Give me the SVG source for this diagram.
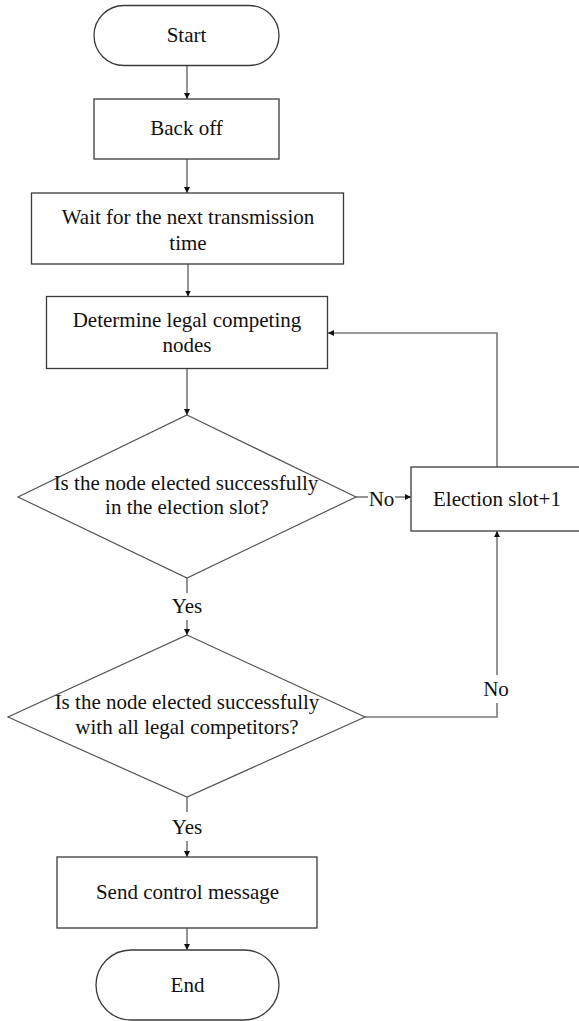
<svg xmlns="http://www.w3.org/2000/svg" width="579" height="1021" viewBox="0 0 579 1021">
<style>
.shape{fill:#fff;stroke:#3a3a3a;stroke-width:1.3}
.dia{fill:#fff;stroke:#555;stroke-width:1.2}
.conn{fill:none;stroke:#7a7a7a;stroke-width:1.6}
.t{font-family:"Liberation Serif","Times New Roman",serif;font-size:21px;fill:#111;text-anchor:middle}
</style>
<defs>
<marker id="arr" viewBox="0 0 10 10" refX="10" refY="5" markerWidth="6" markerHeight="6" markerUnits="userSpaceOnUse" orient="auto">
<path d="M0,0 L10,5 L0,10 z" fill="#111"/>
</marker>
</defs>
<rect width="579" height="1021" fill="#fff"/>
<g id="connectors">
<path class="conn" d="M187,66 V99" marker-end="url(#arr)"/>
<path class="conn" d="M187,159 V193" marker-end="url(#arr)"/>
<path class="conn" d="M188,264 V296.5" marker-end="url(#arr)"/>
<path class="conn" d="M187,369 V415" marker-end="url(#arr)"/>
<path class="conn" d="M497,467 V333 H328" marker-end="url(#arr)"/>
<path class="conn" d="M356,497 H368"/>
<path class="conn" d="M395,497 H411" marker-end="url(#arr)"/>
<path class="conn" d="M187,578 V593"/>
<path class="conn" d="M187,620 V635" marker-end="url(#arr)"/>
<path class="conn" d="M365,717 H497 V703"/>
<path class="conn" d="M497,675 V531" marker-end="url(#arr)"/>
<path class="conn" d="M187,797 V812"/>
<path class="conn" d="M187,841 V857" marker-end="url(#arr)"/>
<path class="conn" d="M187,928 V950" marker-end="url(#arr)"/>
<text class="t" x="381.5" y="505.5">No</text>
<text class="t" x="187" y="612.5">Yes</text>
<text class="t" x="496" y="695.5">No</text>
<text class="t" x="187" y="833.5">Yes</text>
</g>
<g id="start">
<rect class="shape" x="94" y="5.5" width="185" height="60" rx="30" ry="30"/>
<text class="t" x="186.5" y="41.5">Start</text>
</g>
<g id="backoff">
<rect class="shape" x="94" y="99" width="185" height="60"/>
<text class="t" x="186.5" y="134.5">Back off</text>
</g>
<g id="wait">
<rect class="shape" x="31.5" y="193" width="312" height="71"/>
<text class="t" x="188" y="223.5">Wait for the next transmission</text>
<text class="t" x="188" y="250">time</text>
</g>
<g id="determine">
<rect class="shape" x="46.5" y="296.5" width="281" height="72"/>
<text class="t" x="187" y="326.5">Determine legal competing</text>
<text class="t" x="187" y="352">nodes</text>
</g>
<g id="decision1">
<polygon class="dia" points="187,415 356,497 187,578 18,497"/>
<text class="t" x="186" y="490">Is the node elected successfully</text>
<text class="t" x="187" y="514">in the election slot?</text>
</g>
<g id="election">
<rect class="shape" x="411" y="467" width="178" height="64"/>
<text class="t" x="497" y="506">Election slot+1</text>
</g>
<g id="decision2">
<polygon class="dia" points="187,635 365,717 187,797 8,717"/>
<text class="t" x="187" y="709">Is the node elected successfully</text>
<text class="t" x="187" y="734">with all legal competitors?</text>
</g>
<g id="send">
<rect class="shape" x="57" y="857" width="260" height="71"/>
<text class="t" x="187.5" y="899">Send control message</text>
</g>
<g id="end">
<rect class="shape" x="96" y="950" width="183" height="70" rx="35" ry="35"/>
<text class="t" x="187.5" y="991.5">End</text>
</g>
</svg>
